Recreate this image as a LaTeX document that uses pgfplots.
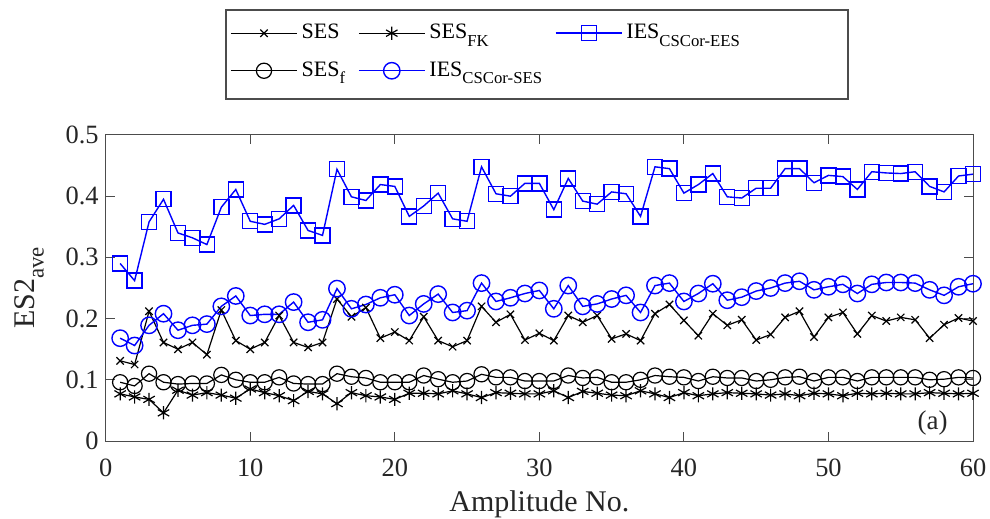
\documentclass[border=0pt]{standalone}
\usepackage{fontspec}
\setmainfont{Liberation Serif}
\usepackage{pgfplots}
\pgfplotsset{compat=1.18}
\usetikzlibrary{calc}
\definecolor{mblue}{rgb}{0,0,1}
\definecolor{axgray}{rgb}{0.3,0.3,0.3}
\newcommand{\sub}[1]{\raisebox{-0.32em}{\scalebox{0.76}{#1}}}
\begin{document}
\begin{tikzpicture}
\begin{axis}[
  scale only axis,
  width=433.65pt, height=153pt,
  xmin=0, xmax=60, ymin=0, ymax=0.5,
  xtick={0,10,20,30,40,50,60},
  ytick={0,0.1,0.2,0.3,0.4,0.5},
  tick align=inside,
  major tick length=4.5pt,
  axis line style={axgray, line width=0.5pt},
  tick style={axgray, line width=0.5pt},
  every tick label/.append style={font=\fontsize{13.2}{15}\selectfont, text=black!85},
  xticklabel style={yshift=-5.5pt},
  /pgf/number format/assume math mode=true,
  xlabel={Amplitude No.},
  ylabel={ES2\sub{ave}},
  ylabel shift=4pt,
  label style={font=\fontsize{15}{18}\selectfont, text=black!85},
  clip=false,
  legend columns=3,
  legend cell align=left,
  legend style={at={(0.1387,1.4085)}, anchor=north west, draw=none, fill=none,
    font=\fontsize{11}{13}\selectfont, text=black,
    /tikz/every even column/.append style={column sep=4.5pt},
    row sep=6pt, inner xsep=2pt, inner ysep=5pt},
  legend image code/.code={\draw[mark repeat=2,mark phase=2] plot coordinates {(0pt,0pt) (16.5pt,0pt) (33pt,0pt)};},
]
\addplot[black, line width=0.6pt, mark=x, mark size=2.6pt, mark options={solid}] coordinates {
(1,0.131) (2,0.125) (3,0.212) (4,0.161) (5,0.150) (6,0.161) (7,0.141) (8,0.214) (9,0.164) (10,0.150)
(11,0.161) (12,0.205) (13,0.161) (14,0.153) (15,0.161) (16,0.232) (17,0.203) (18,0.218) (19,0.168) (20,0.178)
(21,0.164) (22,0.203) (23,0.164) (24,0.154) (25,0.164) (26,0.220) (27,0.194) (28,0.207) (29,0.165) (30,0.176)
(31,0.164) (32,0.205) (33,0.194) (34,0.205) (35,0.167) (36,0.175) (37,0.164) (38,0.208) (39,0.223) (40,0.197)
(41,0.172) (42,0.208) (43,0.189) (44,0.198) (45,0.165) (46,0.174) (47,0.202) (48,0.212) (49,0.170) (50,0.202)
(51,0.210) (52,0.175) (53,0.205) (54,0.196) (55,0.202) (56,0.198) (57,0.168) (58,0.190) (59,0.201) (60,0.196)};
\addlegendentry{SES}
\addplot[black, line width=0.6pt, mark=asterisk, mark size=3.3pt, mark options={solid}] coordinates {
(1,0.077) (2,0.072) (3,0.068) (4,0.046) (5,0.083) (6,0.075) (7,0.079) (8,0.075) (9,0.070) (10,0.085)
(11,0.079) (12,0.074) (13,0.066) (14,0.081) (15,0.077) (16,0.061) (17,0.079) (18,0.074) (19,0.072) (20,0.068)
(21,0.078) (22,0.078) (23,0.077) (24,0.082) (25,0.077) (26,0.071) (27,0.079) (28,0.078) (29,0.077) (30,0.077)
(31,0.082) (32,0.071) (33,0.081) (34,0.078) (35,0.075) (36,0.074) (37,0.082) (38,0.077) (39,0.071) (40,0.079)
(41,0.074) (42,0.077) (43,0.079) (44,0.078) (45,0.077) (46,0.075) (47,0.077) (48,0.074) (49,0.078) (50,0.077)
(51,0.074) (52,0.078) (53,0.077) (54,0.078) (55,0.077) (56,0.077) (57,0.079) (58,0.078) (59,0.077) (60,0.078)};
\addlegendentry{SES\sub{FK}}
\addplot[mblue, line width=0.7pt, mark=square, mark size=3.75pt, mark options={solid}] coordinates {
(1,0.290) (2,0.262) (3,0.358) (4,0.395) (5,0.340) (6,0.332) (7,0.321) (8,0.382) (9,0.411) (10,0.359)
(11,0.354) (12,0.363) (13,0.385) (14,0.344) (15,0.336) (16,0.444) (17,0.399) (18,0.393) (19,0.419) (20,0.416)
(21,0.367) (22,0.384) (23,0.405) (24,0.363) (25,0.359) (26,0.448) (27,0.404) (28,0.400) (29,0.421) (30,0.421)
(31,0.378) (32,0.429) (33,0.392) (34,0.387) (35,0.407) (36,0.404) (37,0.367) (38,0.448) (39,0.445) (40,0.405)
(41,0.419) (42,0.437) (43,0.399) (44,0.397) (45,0.413) (46,0.413) (47,0.445) (48,0.445) (49,0.422) (50,0.434)
(51,0.432) (52,0.411) (53,0.440) (54,0.438) (55,0.437) (56,0.440) (57,0.416) (58,0.407) (59,0.433) (60,0.436)};
\addlegendentry{IES\sub{CSCor-EES}}
\addplot[black, line width=0.6pt, mark=o, mark size=3.8pt, mark options={solid}] coordinates {
(1,0.096) (2,0.090) (3,0.110) (4,0.096) (5,0.093) (6,0.094) (7,0.094) (8,0.108) (9,0.100) (10,0.096)
(11,0.096) (12,0.104) (13,0.094) (14,0.093) (15,0.093) (16,0.110) (17,0.105) (18,0.103) (19,0.096) (20,0.096)
(21,0.096) (22,0.107) (23,0.101) (24,0.096) (25,0.098) (26,0.109) (27,0.104) (28,0.104) (29,0.098) (30,0.098)
(31,0.098) (32,0.107) (33,0.103) (34,0.104) (35,0.096) (36,0.096) (37,0.100) (38,0.107) (39,0.105) (40,0.104)
(41,0.098) (42,0.105) (43,0.103) (44,0.103) (45,0.098) (46,0.100) (47,0.104) (48,0.105) (49,0.098) (50,0.104)
(51,0.104) (52,0.098) (53,0.104) (54,0.104) (55,0.104) (56,0.104) (57,0.100) (58,0.101) (59,0.104) (60,0.103)};
\addlegendentry{SES\sub{f}}
\addplot[mblue, line width=0.7pt, mark=o, mark size=4.1pt, mark options={solid}] coordinates {
(1,0.168) (2,0.156) (3,0.189) (4,0.208) (5,0.181) (6,0.189) (7,0.191) (8,0.220) (9,0.237) (10,0.205)
(11,0.207) (12,0.207) (13,0.227) (14,0.194) (15,0.198) (16,0.249) (17,0.216) (18,0.223) (19,0.234) (20,0.239)
(21,0.205) (22,0.224) (23,0.240) (24,0.210) (25,0.213) (26,0.258) (27,0.228) (28,0.234) (29,0.241) (30,0.246)
(31,0.216) (32,0.254) (33,0.220) (34,0.224) (35,0.232) (36,0.238) (37,0.210) (38,0.254) (39,0.258) (40,0.228)
(41,0.241) (42,0.257) (43,0.230) (44,0.235) (45,0.245) (46,0.250) (47,0.258) (48,0.261) (49,0.247) (50,0.252)
(51,0.256) (52,0.241) (53,0.256) (54,0.259) (55,0.259) (56,0.258) (57,0.247) (58,0.238) (59,0.252) (60,0.257)};
\addlegendentry{IES\sub{CSCor-SES}}
\draw[axgray, line width=0.6pt] (rel axis cs:0.1387,1.1176) rectangle (rel axis cs:0.8559,1.4085);
\node[font=\fontsize{13.5}{16}\selectfont, text=black!85] at (rel axis cs:0.9535,0.059) {(a)};
\coordinate (BL) at (rel axis cs:0,0);
\coordinate (TR) at (rel axis cs:1,1);
\end{axis}
\pgfresetboundingbox
\path ($(BL)+(-52.85pt,-39pt)$) rectangle ($(TR)+(8.5pt,67.5pt)$);
\end{tikzpicture}
\end{document}
